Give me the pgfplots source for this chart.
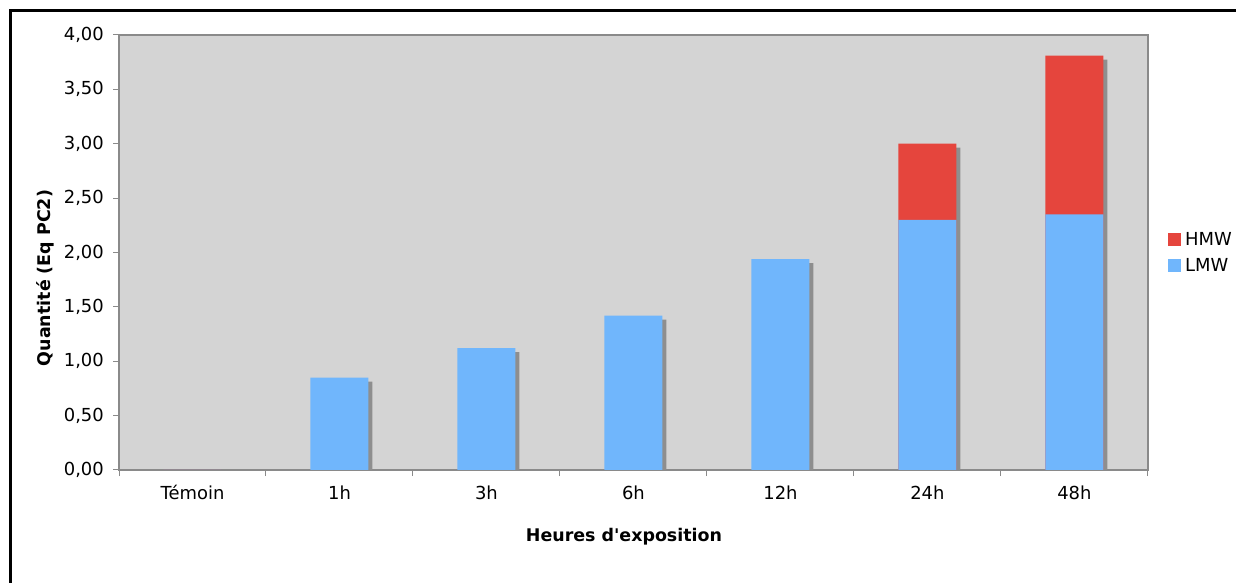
\documentclass[border=0pt]{standalone}
\usepackage{pgfplots}
\pgfplotsset{compat=1.18}
\usepackage{fontspec}
\setmainfont{DejaVu Sans}[Ligatures=TeXOff]
\definecolor{plotbg}{HTML}{D4D4D4}
\definecolor{lmw}{HTML}{70B6FC}
\definecolor{hmw}{HTML}{E5453D}
\definecolor{shadow}{HTML}{8E8E8E}
\definecolor{axisgray}{HTML}{8A8A8A}
\begin{document}
\begin{tikzpicture}
\useasboundingbox (0,0) rectangle (1236bp,583bp);
\fill[white] (0,0) rectangle (1236bp,583bp);
\draw[line width=3bp] (10bp,-20bp) -- (10bp,572bp) -- (1260bp,572bp);
\begin{axis}[
  at={(119bp,113bp)}, anchor=south west,
  scale only axis, width=1029bp, height=435bp,
  xmin=-0.5, xmax=6.5, ymin=0, ymax=4,
  axis background/.style={fill=plotbg},
  axis line style={draw=axisgray, line width=1.2bp},
  ybar, bar width=58bp,
  ytick={0,0.5,...,4},
  /pgf/number format/fixed,
  /pgf/number format/fixed zerofill,
  /pgf/number format/precision=2,
  /pgf/number format/use comma,
  /pgf/number format/assume math mode=true,
  yticklabel style={font=\fontsize{18}{21}\selectfont, inner sep=0pt, xshift=-9bp},
  xtick={-0.5,0.5,...,6.5},
  x tick label as interval,
  xticklabels={Témoin,1h,3h,6h,12h,24h,48h},
  xticklabel style={font=\fontsize{18}{21}\selectfont, yshift=-6bp},
  tick style={draw=axisgray, line width=1bp},
  tickwidth=6bp,
  xtick pos=bottom, ytick pos=left,
  tick align=outside,
  clip=true,
  legend style={at={(1.0195,0.5)}, anchor=west, draw=none, fill=none,
    font=\fontsize{18}{21}\selectfont, row sep=7bp, inner sep=0pt,
    /tikz/every odd column/.append style={column sep=2bp}},
  legend cell align=left,
  legend image code/.code={\fill[#1] (0bp,-6.5bp) rectangle (13bp,6.5bp);},
]
\addplot[fill=shadow, draw=none, bar shift=4bp, yshift=-4bp, forget plot]
  coordinates {(0,0) (1,0.85) (2,1.12) (3,1.42) (4,1.94) (5,3.00) (6,3.81)};
\addplot[fill=hmw, draw=none, bar shift=0pt]
  coordinates {(0,0) (1,0) (2,0) (3,0) (4,0) (5,3.00) (6,3.81)};
\addlegendentry{HMW}
\addplot[fill=lmw, draw=none, bar shift=0pt]
  coordinates {(0,0) (1,0.85) (2,1.12) (3,1.42) (4,1.94) (5,2.30) (6,2.35)};
\addlegendentry{LMW}
\end{axis}
\node[font=\bfseries\fontsize{17.5}{20}\selectfont] at (624bp,46bp) {Heures d'exposition};
\node[font=\bfseries\fontsize{17.5}{20}\selectfont, rotate=90] at (45bp,305bp) {Quantité (Eq PC2)};
\end{tikzpicture}
\end{document}
